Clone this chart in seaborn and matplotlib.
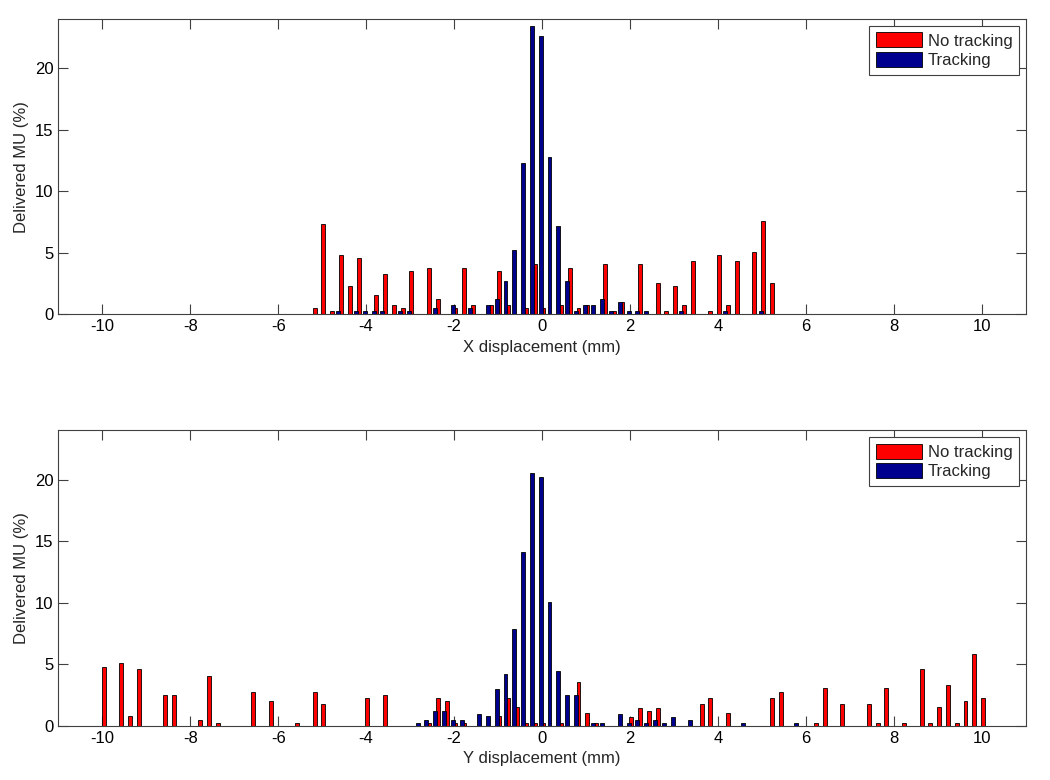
import numpy as np
import pandas as pd
import matplotlib
matplotlib.use("Agg")
import matplotlib.pyplot as plt
from matplotlib.patches import Patch
import seaborn as sns

# ---------------- data (bin centres in mm, delivered MU in %) ----------------
x_top_red = [-5.2, -5.0, -4.8, -4.6, -4.4, -4.2, -3.8, -3.6, -3.4, -3.2, -3.0,
             -2.6, -2.4, -2.0, -1.8, -1.6, -1.2, -1.0, -0.8, -0.4, -0.2, 0.0,
             0.4, 0.6, 0.8, 1.0, 1.4, 1.6, 1.8, 2.2, 2.6, 2.8, 3.0, 3.2, 3.4,
             3.8, 4.0, 4.2, 4.4, 4.8, 5.0, 5.2]
top_red = [0.5, 7.3, 0.25, 4.8, 2.3, 4.55, 1.55, 3.3, 0.75, 0.5, 3.55,
           3.8, 1.25, 0.5, 3.8, 0.75, 0.75, 3.55, 0.75, 0.5, 4.05, 0.5,
           0.75, 3.8, 0.5, 0.75, 4.05, 0.25, 1.0, 4.05, 2.55, 0.25, 2.3, 0.75, 4.3,
           0.25, 4.8, 0.75, 4.3, 5.05, 7.6, 2.55]

x_top_blue = [-4.6, -4.2, -4.0, -3.8, -3.6, -3.2, -3.0, -2.4, -2.0, -1.6,
              -1.2, -1.0, -0.8, -0.6, -0.4, -0.2, 0.0, 0.2, 0.4, 0.6, 0.8,
              1.0, 1.2, 1.4, 1.6, 1.8, 2.0, 2.2, 2.4, 3.2, 4.2, 5.0]
top_blue = [0.25, 0.25, 0.25, 0.25, 0.25, 0.25, 0.25, 0.5, 0.75, 0.5,
            0.75, 1.25, 2.7, 5.2, 12.3, 23.4, 22.65, 12.8, 7.15, 2.7, 0.25,
            0.75, 0.75, 1.25, 0.25, 1.0, 0.25, 0.25, 0.25, 0.25, 0.25, 0.25]

x_bot_red = [-10.0, -9.6, -9.4, -9.2, -8.6, -8.4, -7.8, -7.6, -7.4, -6.6, -6.2,
             -5.6, -5.2, -5.0, -4.0, -3.6, -2.6, -2.4, -2.2, -2.0, -1.8, -1.0,
             -0.8, -0.6, -0.4, -0.2, 0.0, 0.4, 0.8, 1.0, 1.2, 2.0, 2.2, 2.4,
             2.6, 3.6, 3.8, 4.2, 5.2, 5.4, 6.2, 6.4, 6.8, 7.4, 7.6, 7.8, 8.2,
             8.6, 8.8, 9.0, 9.2, 9.4, 9.6, 9.8, 10.0]
bot_red = [4.8, 5.1, 0.8, 4.6, 2.55, 2.55, 0.5, 4.1, 0.25, 2.8, 2.05,
           0.25, 2.8, 1.8, 2.3, 2.55, 0.25, 2.3, 2.05, 0.25, 0.25, 0.8,
           2.3, 1.55, 0.25, 0.25, 0.25, 0.25, 3.55, 1.05, 0.25, 0.75, 1.5, 1.25,
           1.5, 1.8, 2.3, 1.05, 2.3, 2.8, 0.25, 3.05, 1.8, 1.8, 0.25, 3.05, 0.25,
           4.6, 0.25, 1.55, 3.3, 0.25, 2.05, 5.85, 2.3]

x_bot_blue = [-2.8, -2.6, -2.4, -2.2, -2.0, -1.8, -1.4, -1.2, -1.0, -0.8, -0.6,
              -0.4, -0.2, 0.0, 0.2, 0.4, 0.6, 0.8, 1.2, 1.4, 1.8, 2.0, 2.2,
              2.4, 2.6, 2.8, 3.0, 3.4, 4.6, 5.8]
bot_blue = [0.25, 0.5, 1.25, 1.25, 0.5, 0.5, 1.0, 0.8, 3.0, 4.2, 7.9,
            14.1, 20.5, 20.25, 10.1, 4.45, 2.5, 2.5, 0.25, 0.25, 1.0, 0.25, 0.5,
            0.25, 0.5, 0.25, 0.75, 0.5, 0.25, 0.25]

series_labels = ["No tracking", "Tracking"]
x_ticks = [-10, -8, -6, -4, -2, 0, 2, 4, 6, 8, 10]
y_ticks = [0, 5, 10, 15, 20]

RED = "#ff0000"
BLUE = "#00008f"
BAR_W = 0.09      # mm
OFFSET = 0.03     # mm, blue left / red right of the bin centre

# ---------------- style ----------------
sns.set_style("white")
plt.rcParams['font.family'] = ['Liberation Sans', 'DejaVu Sans']
plt.rcParams.update({
    'axes.unicode_minus': False,
    'xtick.direction': 'in', 'ytick.direction': 'in',
    'xtick.top': True, 'ytick.right': True,
    'xtick.bottom': True, 'ytick.left': True,
    'xtick.major.size': 7, 'ytick.major.size': 7,
    'xtick.major.width': 0.8, 'ytick.major.width': 0.8,
    'xtick.major.pad': 3.5, 'ytick.major.pad': 3.5,
    'xtick.color': '#404040', 'ytick.color': '#404040',
    'xtick.labelcolor': 'black', 'ytick.labelcolor': 'black',
    'axes.edgecolor': '#404040', 'axes.linewidth': 0.8,
    'font.size': 12, 'xtick.labelsize': 12, 'ytick.labelsize': 12,
    'axes.labelsize': 12,
})

fig = plt.figure(figsize=(10.5, 7.8), dpi=100)
ax_top = fig.add_axes([0.0555, 0.5971, 0.9214, 0.3785])
ax_bot = fig.add_axes([0.0555, 0.0692, 0.9214, 0.3791])


def draw(ax, xr, vr, xb, vb, xlabel):
    dfr = pd.DataFrame({'x': np.round(np.asarray(xr) + OFFSET, 3), 'v': vr})
    dfb = pd.DataFrame({'x': np.round(np.asarray(xb) - OFFSET, 3), 'v': vb})
    for df, col in [(dfr, RED), (dfb, BLUE)]:
        spacing = np.min(np.diff(np.unique(df['x'].values)))
        sns.barplot(data=df, x='x', y='v', native_scale=True, orient='v',
                    width=BAR_W / spacing, color=col, saturation=1,
                    edgecolor='black', linewidth=0.6, errorbar=None, ax=ax)
    ax.set_xlim(-11, 11)
    ax.set_ylim(0, 24)
    ax.set_xticks(x_ticks)
    ax.set_xticklabels([str(t) for t in x_ticks])
    ax.set_yticks(y_ticks)
    ax.set_yticklabels([str(t) for t in y_ticks])
    ax.set_xlabel(xlabel)
    ax.set_ylabel("Delivered MU (%)")
    for s in ax.spines.values():
        s.set_visible(True)
    handles = [Patch(facecolor=RED, edgecolor='black', linewidth=0.6),
               Patch(facecolor=BLUE, edgecolor='black', linewidth=0.6)]
    leg = ax.legend(handles, series_labels, loc='upper right', fancybox=False,
                    framealpha=1, edgecolor='#404040', handlelength=2.75,
                    handleheight=1.0, handletextpad=0.35, borderpad=0.4,
                    labelspacing=0.2, borderaxespad=0.4, fontsize=12)
    leg.get_frame().set_linewidth(0.8)


draw(ax_top, x_top_red, top_red, x_top_blue, top_blue, "X displacement (mm)")
draw(ax_bot, x_bot_red, bot_red, x_bot_blue, bot_blue, "Y displacement (mm)")

fig.savefig("out.png", dpi=100, facecolor='white')
